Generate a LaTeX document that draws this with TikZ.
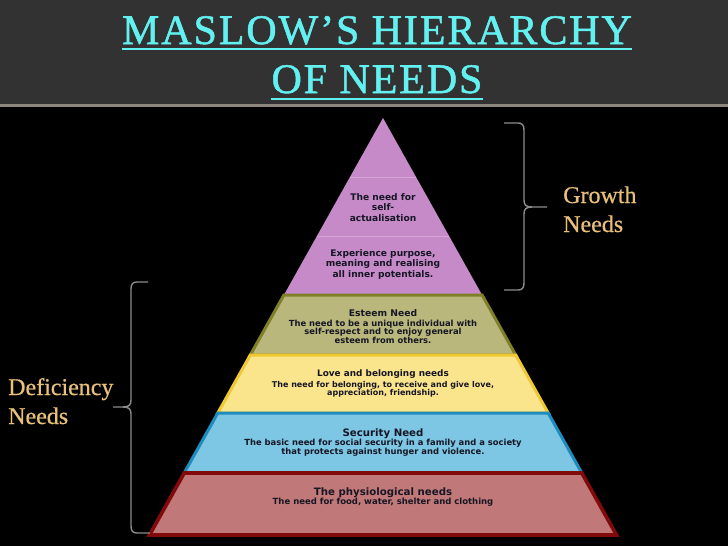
\documentclass[tikz,border=0pt]{standalone}
\usepackage{fontspec}
\setmainfont{Liberation Serif}
\newfontfamily\pyrfont{DejaVu Sans}
\newfontfamily\titlefont{Liberation Serif}[LetterSpace=4.5,FakeBold=1.2]
\newfontfamily\sidefont{Liberation Serif}[FakeBold=0.6]
\usetikzlibrary{calc}
\definecolor{hdrbg}{RGB}{50,50,50}
\definecolor{sepline}{RGB}{140,135,124}
\definecolor{titlecyan}{RGB}{98,240,240}
\definecolor{gold}{RGB}{232,192,122}
\definecolor{bracegray}{RGB}{140,140,140}
\definecolor{ink}{RGB}{22,22,36}
\definecolor{purplefill}{RGB}{198,138,200}
\definecolor{purpleline}{RGB}{214,164,214}
\definecolor{olivefill}{RGB}{185,183,124}
\definecolor{oliveborder}{RGB}{128,128,40}
\definecolor{yellowfill}{RGB}{251,229,140}
\definecolor{yellowborder}{RGB}{240,200,50}
\definecolor{bluefill}{RGB}{125,198,228}
\definecolor{blueborder}{RGB}{30,140,190}
\definecolor{redfill}{RGB}{192,120,120}
\definecolor{redborder}{RGB}{130,10,10}
\tikzset{
  titletext/.style={text=titlecyan, font=\titlefont\fontsize{42}{48}\selectfont, inner sep=0pt, anchor=base},
  uline/.style={draw=titlecyan, line width=2.5pt},
  sidetext/.style={text=gold, font=\sidefont\fontsize{24}{29}\selectfont, inner sep=0pt, anchor=base west},
  bracestyle/.style={draw=bracegray, line width=1.4pt},
  ptitle/.style={text=ink, inner sep=0pt, anchor=base, font=\pyrfont\bfseries\fontsize{#1}{#1}\selectfont},
  pbody/.style={text=ink, inner sep=0pt, anchor=base, font=\pyrfont\bfseries\fontsize{#1}{#1}\selectfont},
  band/.style={line width=3pt, line join=miter}
}
\begin{document}
\begin{tikzpicture}[x=1pt,y=-1pt]
\useasboundingbox (0,0) rectangle (728,546);
\fill[black] (0,0) rectangle (728,546);
\fill[hdrbg] (0,0) rectangle (728,104);
\fill[sepline] (0,104) rectangle (728,107);

% title
\node[titletext] (t1) at (377,44) {MASLOW’S HIERARCHY};
\node[titletext] (t2) at (377,93) {OF NEEDS};
\draw[uline] ($(t1.base west)+(0,5)$) -- ($(t1.base east)+(0,5)$);
\draw[uline] ($(t2.base west)+(0,6)$) -- ($(t2.base east)+(0,6)$);

% pyramid
\fill[purplefill] (383,118) -- (283.9,295) -- (482.1,295) -- cycle;
\draw[purpleline, line width=1pt] (350,177) -- (416,177);
\draw[purpleline, line width=1pt] (317,236) -- (449,236);
\draw[band, draw=oliveborder, fill=olivefill] (283.9,295) -- (482.1,295) -- (515.7,355) -- (250.3,355) -- cycle;
\draw[band, draw=yellowborder, fill=yellowfill] (250.3,355) -- (515.7,355) -- (548.2,413) -- (217.8,413) -- cycle;
\draw[band, draw=blueborder, fill=bluefill] (217.8,413) -- (548.2,413) -- (581.8,473) -- (184.2,473) -- cycle;
\draw[band, line width=3.6pt, draw=redborder, fill=redfill] (184.2,473) -- (581.8,473) -- (616.5,535) -- (149.5,535) -- cycle;

% pyramid texts
\node[pbody=9.1] (sa1) at (383,200) {The need for};
\node[pbody=9.1] (sa2) at (383,210.5) {self-};
\node[pbody=9.1] (sa3) at (383,221) {actualisation};
\node[pbody=9.1] (ex1) at (383,256) {Experience purpose,};
\node[pbody=9.1] (ex2) at (383,266.5) {meaning and realising};
\node[pbody=9.1] (ex3) at (383,277) {all inner potentials.};

\node[ptitle=9.2] (es0) at (383,316) {Esteem Need};
\node[pbody=8.4] (es1) at (383,326) {The need to be a unique individual with};
\node[pbody=8.4] (es2) at (383,334.5) {self-respect and to enjoy general};
\node[pbody=8.4] (es3) at (383,343) {esteem from others.};

\node[ptitle=8.9] (lv0) at (383,376) {Love and belonging needs};
\node[pbody=8] (lv1) at (383,387) {The need for belonging, to receive and give love,};
\node[pbody=8] (lv2) at (383,395.5) {appreciation, friendship.};

\node[ptitle=10.2] (sc0) at (383,436) {Security Need};
\node[pbody=8.4] (sc1) at (383,445.5) {The basic need for social security in a family and a society};
\node[pbody=8.4] (sc2) at (383,454) {that protects against hunger and violence.};

\node[ptitle=10.2] (ph0) at (383,495) {The physiological needs};
\node[pbody=8.5] (ph1) at (383,504.5) {The need for food, water, shelter and clothing};

% braces
\draw[bracestyle] (504,123) -- (518,123) .. controls (522,123) and (524,125) .. (524,130) -- (524,200) .. controls (524,205) and (526,207) .. (532,207) -- (547,207);
\draw[bracestyle] (532,207) .. controls (526,207) and (524,209) .. (524,214) -- (524,283) .. controls (524,288) and (522,290) .. (518,290) -- (504,290);
\draw[bracestyle] (148,282) -- (137,282) .. controls (133,282) and (131,284) .. (131,289) -- (131,400) .. controls (131,405) and (129,407) .. (123,407) -- (113,407);
\draw[bracestyle] (123,407) .. controls (129,407) and (131,409) .. (131,414) -- (131,526) .. controls (131,531) and (133,533) .. (137,533) -- (150,533);

% side labels
\node[sidetext] (g1) at (563,203) {Growth};
\node[sidetext] (g2) at (563,232) {Needs};
\node[sidetext] (d1) at (8,395) {Deficiency};
\node[sidetext] (d2) at (8,424) {Needs};
\end{tikzpicture}
\end{document}
